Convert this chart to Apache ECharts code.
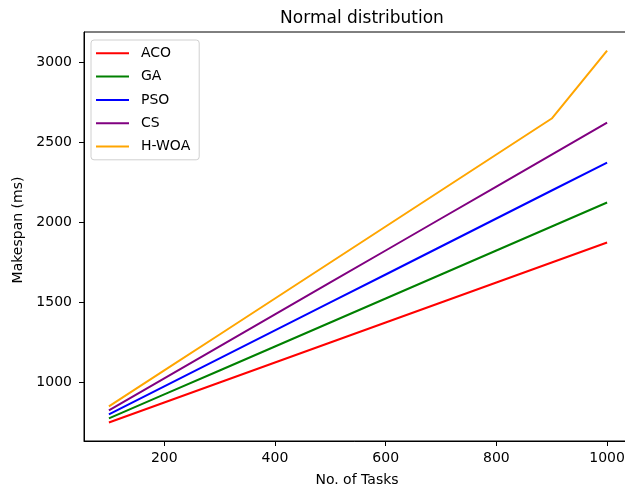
<!DOCTYPE html>
<html>
<head>
<meta charset="utf-8">
<script src="https://cdn.jsdelivr.net/npm/echarts@6/dist/echarts.min.js"></script>
<style>
html,body{margin:0;padding:0;background:#fff;}
#chart{width:625px;height:491px;}
</style>
</head>
<body>
<div id="chart"></div>
<script>
var tasks = [100, 200, 300, 400, 500, 600, 700, 800, 900, 1000];
var aco  = [750, 875, 1000, 1125, 1250, 1375, 1500, 1625, 1750, 1875];
var ga   = [775, 925, 1075, 1225, 1375, 1525, 1675, 1825, 1975, 2125];
var pso  = [800, 975, 1150, 1325, 1500, 1675, 1850, 2025, 2200, 2375];
var cs   = [825, 1025, 1225, 1425, 1625, 1825, 2025, 2225, 2425, 2625];
var hwoa = [850, 1075, 1300, 1525, 1750, 1975, 2200, 2425, 2650, 3075];
var xTicks = [200, 400, 600, 800, 1000];
var yTicks = [1000, 1500, 2000, 2500, 3000];
var seriesNames = ['ACO', 'GA', 'PSO', 'CS', 'H-WOA'];
var seriesData = [aco, ga, pso, cs, hwoa];
var colors = ['#ff0000', '#008000', '#0000ff', '#800080', '#ffa500'];

var FONT = 'DejaVu Sans';
function pairs(arr) { return tasks.map(function (t, i) { return [t, arr[i]]; }); }
function plain(v) { return String(Math.round(v)); }

var chart = echarts.init(document.getElementById('chart'), null, {renderer: 'canvas'});
chart.setOption({
  animation: false,
  backgroundColor: '#fff',
  title: {
    text: 'Normal distribution',
    left: 357, top: 5, textAlign: 'center',
    textStyle: {fontFamily: FONT, fontSize: 17, fontWeight: 'normal', color: '#000'}
  },
  grid: {
    left: 84, top: 32, width: 548, height: 409,
    outerBoundsMode: 'none', containLabel: false,
    show: true, borderColor: '#000', borderWidth: 1, backgroundColor: 'transparent'
  },
  legend: {
    orient: 'vertical', left: 91, top: 40,
    data: seriesNames,
    icon: 'rect', itemWidth: 33, itemHeight: 2, itemGap: 9.3,
    padding: [6.3, 9, 6.3, 5],
    backgroundColor: 'rgba(255,255,255,0.8)',
    borderColor: '#d0d0d0', borderWidth: 1, borderRadius: 3,
    textStyle: {fontFamily: FONT, fontSize: 14, color: '#000', lineHeight: 14, padding: [0, 0, 0, 7]}
  },
  xAxis: {
    type: 'value', min: 55, max: 1045,
    axisLine: {show: true, onZero: false, lineStyle: {color: '#000', width: 1}},
    axisTick: {show: true, inside: false, length: 5, customValues: xTicks, lineStyle: {color: '#000'}},
    axisLabel: {customValues: xTicks, formatter: plain, margin: 10, fontFamily: FONT, fontSize: 14, color: '#000'},
    splitLine: {show: false}
  },
  yAxis: {
    type: 'value', min: 634, max: 3191,
    axisLine: {show: true, onZero: false, lineStyle: {color: '#000', width: 1}},
    axisTick: {show: true, inside: false, length: 5, customValues: yTicks, lineStyle: {color: '#000'}},
    axisLabel: {customValues: yTicks, formatter: plain, margin: 12, fontFamily: FONT, fontSize: 14, color: '#000'},
    splitLine: {show: false}
  },
  graphic: [
    {type: 'text', x: 357, y: 480, style: {text: 'No. of Tasks', x: 0, y: 0, textAlign: 'center', textVerticalAlign: 'middle', font: '14px "DejaVu Sans"', fill: '#000'}},
    {type: 'text', x: 18, y: 230, rotation: Math.PI / 2, style: {text: 'Makespan (ms)', x: 0, y: 0, textAlign: 'center', textVerticalAlign: 'middle', font: '14px "DejaVu Sans"', fill: '#000'}}
  ],
  series: seriesNames.map(function (n, i) {
    return {
      name: n, type: 'line', data: pairs(seriesData[i]),
      showSymbol: false, symbol: 'none',
      lineStyle: {color: colors[i], width: 2},
      itemStyle: {color: colors[i]}
    };
  })
});
</script>
</body>
</html>
